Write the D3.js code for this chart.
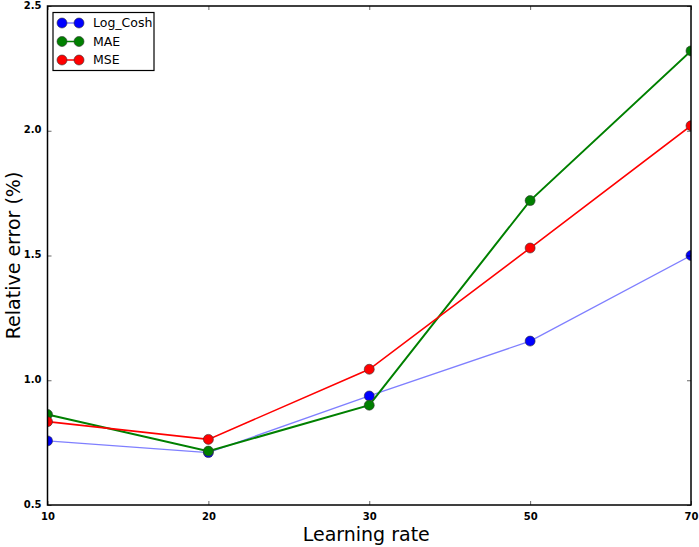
<!DOCTYPE html>
<html><head><meta charset="utf-8">
<script src="https://cdn.jsdelivr.net/npm/d3@7"></script>
<style>body{margin:0;background:#fff}svg{display:block}</style>
</head><body>
<svg id="c" width="699" height="547"></svg>
<script>
const categories = ["10","20","30","50","70"];
const logCosh = [0.757, 0.710, 0.937, 1.157, 1.500];
const mae     = [0.863, 0.716, 0.900, 1.720, 2.320];
const mse     = [0.834, 0.763, 1.044, 1.530, 2.020];
const yTicks  = [0.5, 1.0, 1.5, 2.0, 2.5];
const seriesNames = ["Log_Cosh","MAE","MSE"];

const series = [
  {name: seriesNames[0], values: logCosh, line: "#7f7fff", dot: "#0000ff", lw: 1.3},
  {name: seriesNames[1], values: mae, line: "#008000", dot: "#008000", lw: 2},
  {name: seriesNames[2], values: mse, line: "#ff0000", dot: "#ff0000", lw: 1.6}
];

const svg = d3.select("#c");
const L = 47.5, R = 691, T = 6, B = 505;
const x = d3.scalePoint().domain(categories).range([L, R]);
const y = d3.scaleLinear().domain([0.5, 2.5]).range([B, T]);

svg.append("defs").append("clipPath").attr("id","clip")
  .append("rect").attr("x",L).attr("y",T).attr("width",R-L).attr("height",B-T);

const g = svg.append("g").attr("clip-path","url(#clip)");
const line = d3.line().x((d,i)=>x(categories[i])).y(d=>y(d));
series.forEach(s=>{
  g.append("path").datum(s.values).attr("d", line)
    .attr("fill","none").attr("stroke", s.line).attr("stroke-width", s.lw);
});
series.forEach(s=>{
  g.selectAll(null).data(s.values).enter().append("circle")
    .attr("cx",(d,i)=>x(categories[i])).attr("cy",d=>y(d)).attr("r",5)
    .attr("fill", s.dot).attr("stroke","#333").attr("stroke-width",0.6);
});

// axes
const tickFont = "DejaVu Sans";
const xb = svg.append("g").attr("transform",`translate(0,${B})`)
  .call(d3.axisBottom(x).tickSizeInner(-4).tickSizeOuter(0).tickPadding(8));
const xt = svg.append("g").attr("transform",`translate(0,${T})`)
  .call(d3.axisTop(x).tickSizeInner(-4).tickSizeOuter(0).tickFormat(""));
const yl = svg.append("g").attr("transform",`translate(${L},0)`)
  .call(d3.axisLeft(y).tickValues(yTicks).tickFormat(d3.format(".1f")).tickSizeInner(-4).tickSizeOuter(0).tickPadding(6));
const yr = svg.append("g").attr("transform",`translate(${R},0)`)
  .call(d3.axisRight(y).tickValues(yTicks).tickFormat("").tickSizeInner(-4).tickSizeOuter(0));
[xb,xt,yl,yr].forEach(a=>{
  a.select(".domain").remove();
  a.selectAll("line").attr("stroke","#000").attr("stroke-width",0.6);
  a.selectAll("text").attr("font-family",tickFont).attr("font-size",10).attr("font-weight","bold").attr("fill","#000");
});
yl.selectAll("text").attr("dy","0.2em");

svg.append("rect").attr("x",L).attr("y",T).attr("width",R-L).attr("height",B-T)
  .attr("fill","none").attr("stroke","#000").attr("stroke-width",1.5);

svg.append("text").attr("x",(L+R)/2 - 3).attr("y",541).attr("text-anchor","middle")
  .attr("font-family","DejaVu Sans").attr("font-size",19).text("Learning rate");
svg.append("text").attr("transform",`translate(20,${(T+B)/2}) rotate(-90)`).attr("text-anchor","middle")
  .attr("font-family","DejaVu Sans").attr("font-size",19).text("Relative error (%)");

// legend
const lg = svg.append("g");
lg.append("rect").attr("x",53).attr("y",12.5).attr("width",101).attr("height",58)
  .attr("fill","#fff").attr("stroke","#000").attr("stroke-width",1.2);
series.forEach((s,i)=>{
  const yy = 23 + i*18.5;
  lg.append("line").attr("x1",62).attr("x2",79).attr("y1",yy).attr("y2",yy)
    .attr("stroke",s.line).attr("stroke-width",1.5);
  [62,79].forEach(cx=>lg.append("circle").attr("cx",cx).attr("cy",yy).attr("r",5)
    .attr("fill",s.dot).attr("stroke","#333").attr("stroke-width",0.6));
  lg.append("text").attr("x",93).attr("y",yy).attr("dy","0.35em")
    .attr("font-family","DejaVu Sans").attr("font-size",12.5).text(s.name);
});
</script>
</body></html>
